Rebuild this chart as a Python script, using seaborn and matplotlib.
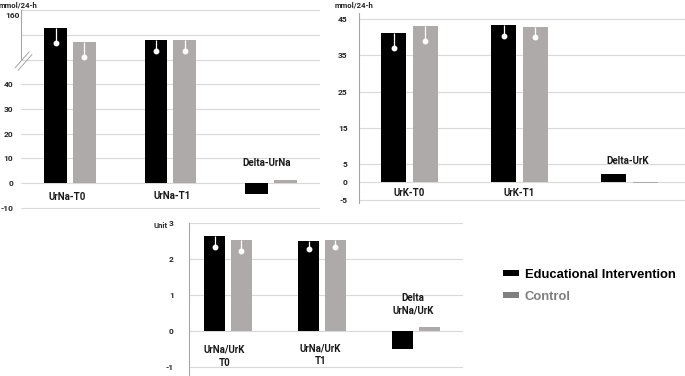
import numpy as np
import pandas as pd
import matplotlib
matplotlib.use("Agg")
import matplotlib.pyplot as plt
from matplotlib.patches import Patch
from matplotlib.lines import Line2D
import seaborn as sns

# ---------------- data ----------------
groups = ["Educational Intervention", "Control"]

urna_cats = ["UrNa-T0", "UrNa-T1", "Delta-UrNa"]
urna_edu = [131.5, 111.6, -4.6]
urna_ctl = [108.0, 111.6, 1.1]
urna_edu_low = [107.0, 94.0]
urna_ctl_low = [84.0, 93.7]

urk_cats = ["UrK-T0", "UrK-T1", "Delta-UrK"]
urk_edu = [41.2, 43.3, 2.1]
urk_ctl = [43.0, 42.8, -0.25]
urk_edu_low = [37.1, 40.4]
urk_ctl_low = [38.9, 40.0]

ratio_cats = ["UrNa/UrK\nT0", "UrNa/UrK\nT1", "Delta\nUrNa/UrK"]
ratio_edu = [2.63, 2.49, -0.5]
ratio_ctl = [2.52, 2.52, 0.1]
ratio_edu_low = [2.32, 2.28]
ratio_ctl_low = [2.21, 2.33]

urna_ticks = [-10, 0, 10, 20, 30, 40, 80, 120, 160]
urna_ticklabels = ["-10", "0", "10", "20", "30", "40", "", "", ""]
urk_ticks = [-5, 0, 5, 15, 25, 35, 45]
ratio_ticks = [-1, 0, 1, 2, 3]

# ---------------- style ----------------
sns.set_theme(style="white")
plt.rcParams["font.family"] = ["Roboto", "DejaVu Sans"]

BLACK = "#000000"
GRAY = "#aeaaaa"
palette = {groups[0]: BLACK, groups[1]: GRAY}
GRID = "#d9d9d9"
TXT = "#262626"

W, H = 685, 376
fig = plt.figure(figsize=(W / 100, H / 100), dpi=100)
fig.patch.set_facecolor("white")


def px_axes(l, t, r, b):
    return fig.add_axes([l / W, 1 - b / H, (r - l) / W, (b - t) / H])


def make_df(cats, edu, ctl):
    return pd.DataFrame({
        "cat": cats * 2,
        "value": list(edu) + list(ctl),
        "group": [groups[0]] * len(cats) + [groups[1]] * len(cats),
    })


def draw_panel(ax, cats, edu, ctl, edu_low, ctl_low):
    df = make_df(cats, edu, ctl)
    sns.barplot(data=df, x="cat", y="value", hue="group", order=cats,
                hue_order=groups, palette=palette, width=0.57, gap=0.2,
                legend=False, ax=ax, saturation=1, edgecolor="none",
                errorbar=None)
    for cont, lows in zip(ax.containers, [edu_low, ctl_low]):
        for bar, low in zip(list(cont)[:len(lows)], lows):
            xc = bar.get_x() + bar.get_width() / 2
            top = bar.get_y() + bar.get_height()
            ax.plot([xc, xc], [top, low], color="white", lw=0.9,
                    solid_capstyle="butt", zorder=3)
            ax.plot([xc], [low], "o", color="white", ms=3.2, mec="white",
                    zorder=4)
    ax.set_xlabel("")
    ax.set_ylabel("")
    ax.set_xticks([])
    for s in ["top", "right", "bottom"]:
        ax.spines[s].set_visible(False)
    ax.spines["left"].set_color("#a6a6a6")
    ax.spines["left"].set_linewidth(0.8)
    ax.yaxis.grid(True, color=GRID, lw=0.8)
    ax.set_axisbelow(True)
    ax.set_facecolor("white")


TICK_FS = 6.0


def style_ticks(ax, pad):
    ax.tick_params(axis="y", length=0, pad=pad, labelsize=TICK_FS,
                   labelcolor=TXT)
    for t in ax.get_yticklabels():
        t.set_fontweight("bold")


label_kw = dict(ha="center", va="center", fontsize=7.0, fontweight="bold",
                color="#1a1a1a")

# ---------------- panel 1 : UrNa (broken axis) ----------------
ax1 = px_axes(20.7, 10, 320, 209.2)


def fwd(v):
    v = np.asarray(v, dtype=float)
    return np.where(v <= 40, v, 40 + (v - 40) / 4.0)


def inv(u):
    u = np.asarray(u, dtype=float)
    return np.where(u <= 40, u, 40 + (u - 40) * 4.0)


ax1.set_yscale("function", functions=(fwd, inv))
draw_panel(ax1, urna_cats, urna_edu, urna_ctl, urna_edu_low, urna_ctl_low)
ax1.set_yscale("function", functions=(fwd, inv))
ax1.set_ylim(-10.6, 160.2)
ax1.set_xlim(-0.49, 2.49)
ax1.set_yticks(urna_ticks)
ax1.set_yticklabels(urna_ticklabels)
ax1.yaxis.set_minor_locator(matplotlib.ticker.NullLocator())
style_ticks(ax1, 5.6)
ax1.spines["left"].set_bounds(79, 160.2)
ax1.text(-0.004, 152, "160", transform=ax1.get_yaxis_transform(),
         ha="right", va="center", fontsize=TICK_FS, fontweight="bold",
         color=TXT)
urna_label_y = [-5.5, -5.3, 8.0]
urna_label_dx = [-0.03, 0.02, -0.04]
for i, (lab, y) in enumerate(zip(urna_cats, urna_label_y)):
    ax1.text(i + urna_label_dx[i], y, lab, **label_kw)
# axis break marks
for (x0, y0, x1, y1) in [(15, 68, 29, 52), (18, 70.5, 32, 54.5)]:
    fig.add_artist(Line2D([x0 / W, x1 / W], [1 - y0 / H, 1 - y1 / H],
                          transform=fig.transFigure, color="#a6a6a6", lw=0.7))
fig.text(-1 / W, 1 - 4.5 / H, "mmol/24-h", ha="left", va="center",
         fontsize=5.6, fontweight="bold", color=TXT)

# ---------------- panel 2 : UrK ----------------
ax2 = px_axes(359.3, 13, 685, 203)
draw_panel(ax2, urk_cats, urk_edu, urk_ctl, urk_edu_low, urk_ctl_low)
ax2.set_ylim(-5.8, 46.7)
ax2.set_xlim(-0.456, 2.505)
ax2.set_yticks(urk_ticks)
ax2.set_yticklabels([str(t) for t in urk_ticks])
style_ticks(ax2, 8.4)
urk_label_y = [-3.1, -3.1, 5.8]
urk_label_dx = [0.0, 0.0, -0.02]
for i, (lab, y) in enumerate(zip(urk_cats, urk_label_y)):
    ax2.text(i + urk_label_dx[i], y, lab, **label_kw)
fig.text(335 / W, 1 - 5 / H, "mmol/24-h", ha="left", va="center",
         fontsize=5.6, fontweight="bold", color=TXT)

# ---------------- panel 3 : UrNa/UrK ----------------
ax3 = px_axes(189, 222.7, 463, 376)
draw_panel(ax3, ratio_cats, ratio_edu, ratio_ctl, ratio_edu_low, ratio_ctl_low)
ax3.set_ylim(-1.25, 3.0)
ax3.set_xlim(-0.415, 2.5)
ax3.set_yticks(ratio_ticks)
ax3.set_yticklabels([str(t) for t in ratio_ticks])
style_ticks(ax3, 11)
ratio_label_y = [-0.7, -0.655, 0.74]
ratio_label_dx = [-0.04, -0.02, -0.03]
for i, (lab, y) in enumerate(zip(ratio_cats, ratio_label_y)):
    ax3.text(i + ratio_label_dx[i], y, lab, linespacing=1.35, **label_kw)
fig.text(153 / W, 1 - 226 / H, "Unit", ha="left", va="center",
         fontsize=5.6, fontweight="bold", color=TXT)

# ---------------- legend ----------------
handles = [Patch(facecolor=BLACK, edgecolor="none"),
           Patch(facecolor="#808080", edgecolor="none")]
leg = fig.legend(handles, groups, loc="upper left",
                 bbox_to_anchor=(503 / W, 1 - 268.5 / H),
                 frameon=False, borderpad=0, borderaxespad=0,
                 handlelength=1.25, handleheight=0.38, handletextpad=0.4,
                 labelspacing=0.78,
                 prop={"family": "Liberation Sans", "weight": "bold",
                       "size": 9.4})
leg.get_texts()[0].set_color("#000000")
leg.get_texts()[1].set_color("#7f7f7f")

fig.savefig("out.png", dpi=100, facecolor="white")
